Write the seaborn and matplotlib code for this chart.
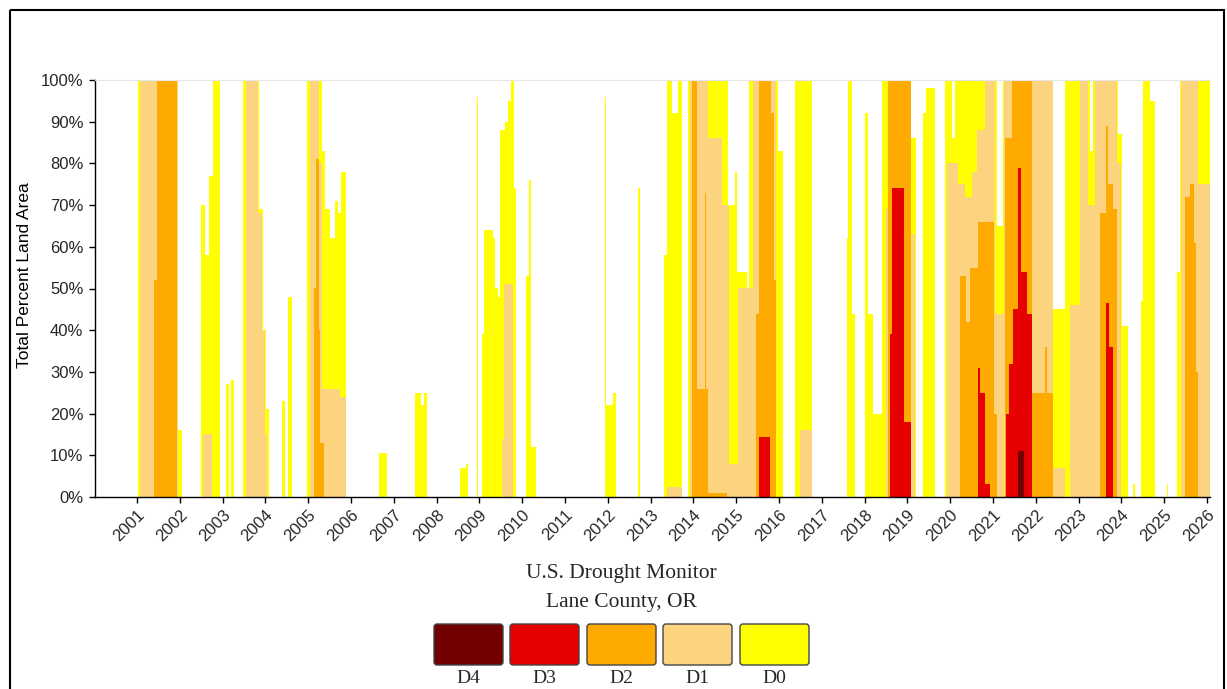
import numpy as np
import pandas as pd
import matplotlib
matplotlib.use("Agg")
import matplotlib.pyplot as plt
import seaborn as sns
from matplotlib.patches import FancyBboxPatch, Rectangle

# ---- data: cumulative percent of land area, step breakpoints (decimal year, value) ----
d0_year = [2000.02, 2001.02, 2001.96, 2002.05, 2002.50, 2002.59, 2002.68, 2002.78, 2002.94, 2003.08,
           2003.15, 2003.20, 2003.27, 2003.48, 2003.85, 2003.94, 2004.01, 2004.08, 2004.39, 2004.46,
           2004.53, 2004.62, 2004.97, 2005.32, 2005.39, 2005.51, 2005.63, 2005.70, 2005.77, 2005.88,
           2006.65, 2006.84, 2007.50, 2007.64, 2007.71, 2007.78, 2008.55, 2008.69, 2008.73, 2008.94,
           2008.97, 2009.06, 2009.11, 2009.32, 2009.36, 2009.43, 2009.48, 2009.60, 2009.67, 2009.74,
           2009.81, 2009.85, 2010.09, 2010.16, 2010.21, 2010.32, 2011.93, 2011.96, 2012.12, 2012.19,
           2012.71, 2012.75, 2013.31, 2013.38, 2013.50, 2013.64, 2013.73, 2013.87, 2014.80, 2014.97,
           2015.02, 2015.25, 2015.30, 2015.97, 2016.09, 2016.37, 2016.77, 2017.59, 2017.61, 2017.71,
           2017.78, 2018.01, 2018.08, 2018.20, 2018.41, 2019.08, 2019.20, 2019.36, 2019.43, 2019.64,
           2019.88, 2020.04, 2020.11, 2021.09, 2021.23, 2022.40, 2022.68, 2023.27, 2023.34, 2023.92,
           2024.01, 2024.15, 2024.27, 2024.32, 2024.46, 2024.50, 2024.67, 2024.79, 2025.07, 2025.09,
           2025.30, 2025.37, 2026.07]
d0_pct = [0, 100, 16, 0, 70, 58, 77, 100, 0, 27,
          0, 28, 0, 100, 69, 40, 21, 0, 23, 0,
          48, 0, 100, 83, 69, 62, 71, 68, 78, 0,
          10.5, 0, 25, 22, 25, 0, 7, 8, 0, 96,
          0, 39, 64, 62, 50, 48, 88, 90, 95, 100,
          74, 0, 53, 76, 12, 0, 96, 22, 25, 0,
          74, 0, 58, 100, 92, 100, 0, 100, 70, 78,
          54, 50, 100, 83, 0, 100, 0, 62, 100, 44,
          0, 92, 44, 20, 100, 86, 0, 92, 98, 0,
          100, 86, 100, 65, 100, 45, 100, 83, 100, 87,
          41, 0, 3, 0, 47, 100, 95, 0, 3, 0,
          54, 100, 100]

d1_year = [2000.02, 2001.07, 2001.96, 2002.54, 2002.75, 2003.55, 2003.83, 2003.92, 2003.99, 2004.04,
           2005.04, 2005.25, 2005.32, 2005.74, 2005.88, 2009.53, 2009.57, 2009.78, 2013.38, 2013.73,
           2013.92, 2014.33, 2014.68, 2014.83, 2015.04, 2015.39, 2015.93, 2016.49, 2016.77, 2018.50,
           2018.55, 2019.08, 2019.18, 2019.92, 2020.18, 2020.34, 2020.51, 2020.63, 2020.81, 2021.05,
           2021.26, 2022.40, 2022.68, 2022.80, 2023.03, 2023.22, 2023.38, 2023.90, 2023.99, 2025.39,
           2025.79, 2026.07]
d1_pct = [0, 100, 0, 15, 0, 100, 68, 40, 15, 0,
          100, 80, 26, 24, 0, 14, 51, 0, 2.5, 0,
          100, 86, 70, 8, 50, 100, 0, 16, 0, 69,
          100, 63, 0, 80, 75, 72, 78, 88, 100, 44,
          100, 7, 0, 46, 100, 70, 100, 80, 0, 100,
          75, 75]

d2_year = [2000.02, 2001.40, 2001.47, 2001.93, 2005.14, 2005.18, 2005.25, 2005.28, 2005.37, 2013.97,
           2014.08, 2014.27, 2014.29, 2014.33, 2014.78, 2015.46, 2015.53, 2015.81, 2015.88, 2015.93,
           2018.55, 2019.08, 2020.22, 2020.36, 2020.46, 2020.65, 2021.02, 2021.09, 2021.28, 2021.44,
           2021.91, 2022.21, 2022.26, 2022.40, 2023.50, 2023.64, 2023.69, 2023.80, 2023.90, 2025.49,
           2025.60, 2025.70, 2025.74, 2025.79]
d2_pct = [0, 52, 100, 0, 50, 81, 40, 13, 0, 100,
          26, 73, 26, 1, 0, 44, 100, 92, 52, 0,
          100, 0, 53, 42, 55, 66, 20, 0, 86, 100,
          25, 36, 25, 0, 68, 89, 75, 69, 0, 72,
          75, 61, 30, 0]

d3_year = [2000.02, 2015.53, 2015.79, 2018.59, 2018.64, 2018.92, 2019.08, 2020.65, 2020.70, 2020.81,
           2020.93, 2021.30, 2021.37, 2021.47, 2021.58, 2021.65, 2021.79, 2021.91, 2023.64, 2023.71,
           2023.80]
d3_pct = [0, 14.5, 0, 39, 74, 18, 0, 31, 25, 3,
          0, 20, 32, 45, 79, 54, 44, 0, 46.5, 36,
          0]

d4_year = [2000.02, 2021.58, 2021.72]
d4_pct = [0, 11, 0]

categories = ["D4", "D3", "D2", "D1", "D0"]
colors = {"D4": "#730000", "D3": "#E60000", "D2": "#FFAA00", "D1": "#FCD37F", "D0": "#FFFF00"}
tick_years = list(range(2001, 2027))
y_ticks = list(range(0, 101, 10))

series = {"D0": (d0_year, d0_pct), "D1": (d1_year, d1_pct), "D2": (d2_year, d2_pct),
          "D3": (d3_year, d3_pct), "D4": (d4_year, d4_pct)}

# ---- figure ----
sns.set_theme(style="ticks")
plt.rcParams['font.family'] = ['Liberation Sans', 'DejaVu Sans']

W, H = 1227, 689
fig = plt.figure(figsize=(W / 100, H / 100), dpi=100)
ax = fig.add_axes([95 / W, 1 - 497 / H, 1115 / W, 417 / H])

for name in ["D0", "D1", "D2", "D3", "D4"]:
    yrs, pct = series[name]
    df = pd.DataFrame({"year": yrs[:-1], "pct": pct[:-1]})
    sns.histplot(data=df, x="year", weights="pct", bins=yrs, element="step", fill=True,
                 color=colors[name], alpha=1, linewidth=0, stat="count", ax=ax)

ax.set_xlim(2000.02, 2026.07)
ax.set_ylim(0, 100)
ax.set_xticks(tick_years)
ax.set_xticklabels([str(y) for y in tick_years], rotation=45, ha="right", va="top",
                   rotation_mode="anchor", fontsize=12)
ax.set_yticks(y_ticks)
ax.set_yticklabels([f"{v}%" for v in y_ticks], fontsize=12)
ax.tick_params(axis="both", length=4.3, width=1, color="black", pad=4)
ax.tick_params(axis="x", pad=3)
ax.set_xlabel("")
ax.set_ylabel("Total Percent Land Area", fontsize=12.5, color="black")
ax.yaxis.set_label_coords(-0.0565, 0.532)

for s in ["left", "bottom"]:
    ax.spines[s].set_color("black")
    ax.spines[s].set_linewidth(1)
ax.spines["top"].set_color("#e6e6e6")
ax.spines["top"].set_linewidth(0.8)
ax.spines["right"].set_visible(False)
ax.grid(False)
ax.set_facecolor("white")

# ---- overlay for titles, legend and frame (pixel coordinates) ----
ov = fig.add_axes([0, 0, 1, 1], zorder=-1)
ov.set_xlim(0, W)
ov.set_ylim(H, 0)
ov.axis("off")

ov.add_patch(Rectangle((10, 10), 1214, 720, fill=False, edgecolor="black", linewidth=1.5))

serif = ["Liberation Serif", "DejaVu Serif"]
ov.text(621, 578, "U.S. Drought Monitor", ha="center", va="baseline", fontsize=15.5, family=serif)
ov.text(621, 607, "Lane County, OR", ha="center", va="baseline", fontsize=15.5, family=serif)

box_left = [434, 510, 587, 663, 740]
for name, x0 in zip(categories, box_left):
    ov.add_patch(FancyBboxPatch((x0, 624), 69, 41, boxstyle="round,pad=0,rounding_size=3",
                                facecolor=colors[name], edgecolor="#444444", linewidth=1))
    ov.text(x0 + 34.5, 683, name, ha="center", va="baseline", fontsize=14, family=serif)

fig.savefig("out.png", dpi=100)
